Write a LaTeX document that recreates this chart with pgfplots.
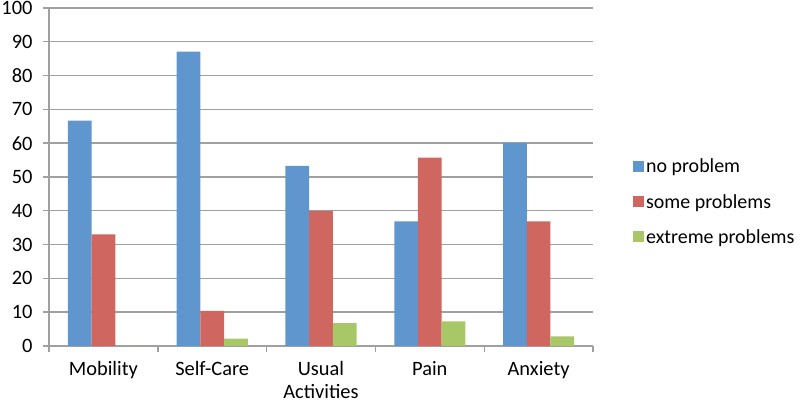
\documentclass[border=0pt]{standalone}
\usepackage{pgfplots}
\pgfplotsset{compat=1.18}
\usepackage{fontspec}
\setmainfont{Carlito}
\definecolor{cblue}{RGB}{96,150,206}
\definecolor{cred}{RGB}{208,102,96}
\definecolor{cgreen}{RGB}{168,200,104}
\definecolor{cgrid}{RGB}{160,160,160}
\begin{document}
\begin{tikzpicture}
\begin{axis}[
  at={(49bp,59bp)}, anchor=south west,
  scale only axis,
  width=544bp, height=338bp,
  ybar=0pt, bar width=23.7bp,
  xmin=-0.5, xmax=4.5,
  ymin=0, ymax=100,
  ytick={0,10,...,100},
  xtick={-0.5,0.5,...,4.5},
  xticklabels={},
  extra x ticks={0,1,2,3,4},
  extra x tick labels={Mobility,Self-Care,Usual\\Activities,Pain,Anxiety},
  extra x tick style={major tick length=0pt, grid=none},
  xticklabel style={align=center, yshift=-12bp, font=\fontsize{20.5}{23}\selectfont},
  yticklabel style={font=\fontsize{20.5}{24}\selectfont, xshift=-7bp},
  /pgf/number format/assume math mode=true,
  axis x line*=bottom, axis y line*=left,
  axis line style={draw=cgrid, line width=1.4bp, -},
  tick style={draw=cgrid, line width=1.4bp},
  tick align=outside,
  major tick length=6bp,
  ymajorgrids, grid style={draw=cgrid, line width=1.4bp},
  legend style={draw=none, fill=none, at={(581bp,144bp)}, anchor=west,
    font=\fontsize{20}{24}\selectfont, row sep=16bp,
    /tikz/every even column/.append style={column sep=0bp}},
  legend cell align=left,
  legend image code/.code={\fill[#1] (0bp,-5bp) rectangle (11bp,6bp);},
  every axis plot/.append style={draw=none},
]
\addplot[fill=cblue] coordinates {(0,66.7) (1,87.1) (2,53.3) (3,36.9) (4,60.1)};
\addplot[fill=cred] coordinates {(0,33.0) (1,10.4) (2,40.0) (3,55.7) (4,36.9)};
\addplot[fill=cgreen] coordinates {(0,0) (1,2.2) (2,6.75) (3,7.3) (4,2.85)};
\legend{no problem,some problems,extreme problems}
\end{axis}
\pgfresetboundingbox
\path (0,0) rectangle (800bp,405bp);
\end{tikzpicture}
\end{document}
